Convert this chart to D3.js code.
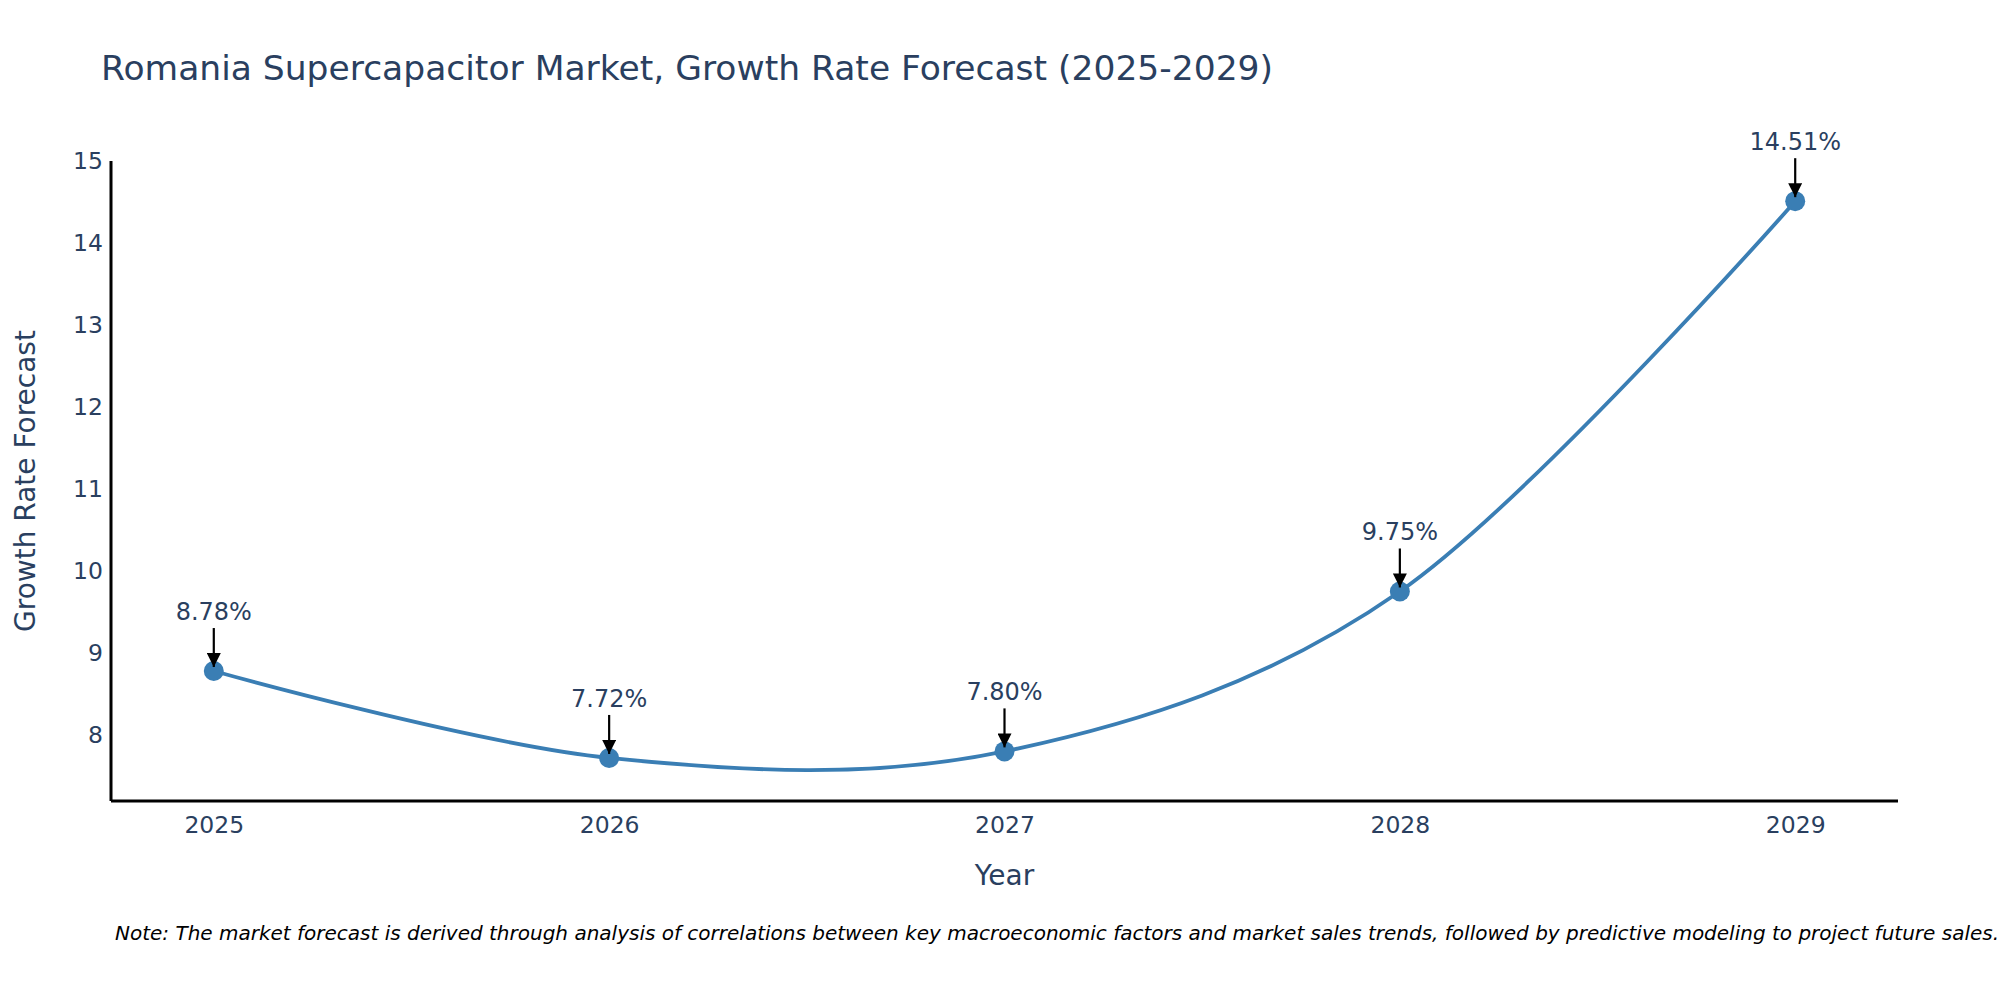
<!DOCTYPE html>
<html>
<head>
    <meta charset="utf-8">
    <style>
        body { margin: 0; background: #fff; }
        text { font-family: "DejaVu Sans", Verdana, sans-serif; }
    </style>
</head>
<body>
    <svg width="2000" height="1000"></svg>
    <script src="https://d3js.org/d3.v7.min.js"></script>
    <script>
        // chart data
        let years = [2025, 2026, 2027, 2028, 2029];
        let growth = [8.78, 7.72, 7.80, 9.75, 14.51];
        let pointLabels = ["8.78%", "7.72%", "7.80%", "9.75%", "14.51%"];
        let yTicks = [8, 9, 10, 11, 12, 13, 14, 15];

        let textColor = "#2a3f5f";
        let lineColor = "#3a7eb4";
        let plotLeft = 111, plotRight = 1898, plotTop = 161, plotBottom = 801;

        let x = d3.scaleLinear().domain([2024.74, 2029.26]).range([plotLeft, plotRight]);
        let y = d3.scaleLinear().domain([7.195, 15]).range([plotBottom, plotTop]);

        let svg = d3.select("svg");
        let data = years.map((yr, i) => ({year: yr, v: growth[i], label: pointLabels[i]}));

        svg.append("defs").append("marker")
            .attr("id", "head")
            .attr("viewBox", "0 0 10 10")
            .attr("refX", 10).attr("refY", 5)
            .attr("markerUnits", "userSpaceOnUse")
            .attr("markerWidth", 14).attr("markerHeight", 14)
            .attr("orient", "auto")
            .append("path")
            .attr("d", "M0,0L10,5L0,10Z")
            .attr("fill", "#000");

        // title
        svg.append("text")
            .attr("x", 101).attr("y", 80)
            .attr("font-size", 34.5)
            .attr("fill", textColor)
            .text("Romania Supercapacitor Market, Growth Rate Forecast (2025-2029)");

        // axes
        let xAxis = svg.append("g")
            .attr("transform", `translate(0,${plotBottom})`)
            .call(d3.axisBottom(x).tickValues(years).tickFormat(d3.format("d")).tickSize(0).tickPadding(15));
        xAxis.select(".domain").attr("stroke", "#000").attr("stroke-width", 3)
            .attr("d", `M${plotLeft},0H${plotRight}`);
        xAxis.selectAll("text").attr("font-size", 23.5).attr("fill", textColor)
            .attr("font-family", "DejaVu Sans, Verdana, sans-serif");

        let yAxis = svg.append("g")
            .attr("transform", `translate(${plotLeft},0)`)
            .call(d3.axisLeft(y).tickValues(yTicks).tickSize(0).tickPadding(8));
        yAxis.select(".domain").attr("stroke", "#000").attr("stroke-width", 3)
            .attr("d", `M0,${plotTop}V${plotBottom}`);
        yAxis.selectAll("text").attr("font-size", 23.5).attr("fill", textColor)
            .attr("font-family", "DejaVu Sans, Verdana, sans-serif");

        // axis titles
        svg.append("text")
            .attr("x", (plotLeft + plotRight) / 2).attr("y", 885)
            .attr("text-anchor", "middle")
            .attr("font-size", 28)
            .attr("fill", textColor)
            .text("Year");

        svg.append("text")
            .attr("transform", `translate(35,${(plotTop + plotBottom) / 2}) rotate(-90)`)
            .attr("text-anchor", "middle")
            .attr("font-size", 28)
            .attr("fill", textColor)
            .text("Growth Rate Forecast");

        // line
        let line = d3.line()
            .x(d => x(d.year))
            .y(d => y(d.v))
            .curve(d3.curveCardinal.tension(0));

        svg.append("path")
            .datum(data)
            .attr("d", line)
            .attr("fill", "none")
            .attr("stroke", lineColor)
            .attr("stroke-width", 3.8);

        svg.selectAll("circle.pt")
            .data(data)
            .enter()
            .append("circle")
            .attr("class", "pt")
            .attr("cx", d => x(d.year))
            .attr("cy", d => y(d.v))
            .attr("r", 10)
            .attr("fill", lineColor);

        // annotations
        let ann = svg.selectAll("g.ann")
            .data(data)
            .enter()
            .append("g")
            .attr("class", "ann")
            .attr("transform", d => `translate(${x(d.year)},${y(d.v)})`);

        ann.append("line")
            .attr("x1", 0).attr("y1", -43)
            .attr("x2", 0).attr("y2", -4)
            .attr("stroke", "#000")
            .attr("stroke-width", 2.2)
            .attr("marker-end", "url(#head)");

        ann.append("text")
            .attr("y", -51)
            .attr("text-anchor", "middle")
            .attr("font-size", 24)
            .attr("fill", textColor)
            .text(d => d.label);

        // note
        svg.append("text")
            .attr("x", 115).attr("y", 940)
            .attr("font-size", 20)
            .attr("font-style", "italic")
            .attr("fill", "#000")
            .text("Note: The market forecast is derived through analysis of correlations between key macroeconomic factors and market sales trends, followed by predictive modeling to project future sales.");
    </script>
</body>
</html>
